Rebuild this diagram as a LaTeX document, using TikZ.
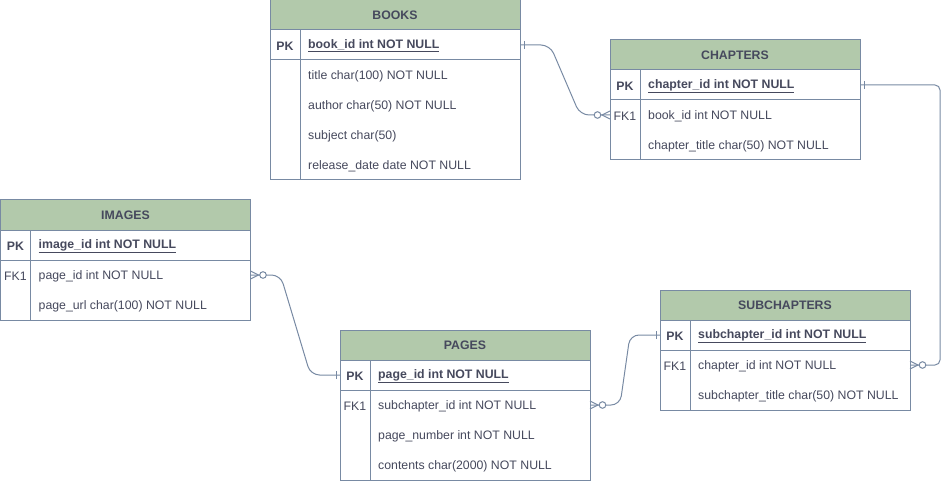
\documentclass[tikz,border=0pt]{standalone}
\usepackage{fontspec}
\setmainfont{Liberation Sans}
\definecolor{hdr}{HTML}{B2C9AB}
\definecolor{edge}{HTML}{788AA3}
\definecolor{txt}{HTML}{46495D}
\begin{document}
\begin{tikzpicture}[x=1pt,y=-1pt,
  every node/.style={font=\fontsize{12.3}{14}\selectfont, text=txt},
  hbox/.style={draw=edge, fill=hdr, line width=1pt, minimum width=250pt, minimum height=30pt, inner sep=0pt, outer sep=0pt, font=\fontsize{12.3}{14}\selectfont\bfseries},
  rbox/.style={draw=edge, fill=white, line width=1pt, minimum width=250pt, inner sep=0pt, outer sep=0pt},
  divl/.style={draw=edge, line width=1pt},
  keyl/.style={anchor=center, inner sep=0pt, yshift=-1pt},
  fld/.style={anchor=west, inner sep=0pt, yshift=-1pt},
  bfk/.style={font=\fontsize{12.3}{14}\selectfont\bfseries},
  conn/.style={draw=edge, line width=1pt},
  zmany/.pic={\draw[conn] (0,-4) -- (8,0) -- (0,4);
              \draw[conn, fill=white] (12.5,0) circle (3.3);},
  onebar/.pic={\draw[conn] (4,-4) -- (4,4);}
]
\useasboundingbox (0,0) rectangle (950,481);

% ---------- BOOKS ----------
\node[hbox] (books-h) at (395,15) {BOOKS};
\node[rbox, minimum height=30pt] (books-pk) at (395,45) {};
\node[rbox, minimum height=120pt] (books-body) at (395,120) {};
\draw[divl] (300,30) -- (300,180);
\node[keyl, bfk] (books-pkl) at (285,45) {PK};
\node[fld, bfk] (books-f1) at (308,45) {\underline{book\_id int NOT NULL}};
\node[fld] (books-f2) at (308,75) {title char(100) NOT NULL};
\node[fld] (books-f3) at (308,105) {author char(50) NOT NULL};
\node[fld] (books-f4) at (308,135) {subject char(50)};
\node[fld] (books-f5) at (308,165) {release\_date date NOT NULL};

% ---------- CHAPTERS ----------
\node[hbox] (chapters-h) at (735,55) {CHAPTERS};
\node[rbox, minimum height=30pt] (chapters-pk) at (735,85) {};
\node[rbox, minimum height=60pt] (chapters-body) at (735,130) {};
\draw[divl] (640,70) -- (640,160);
\node[keyl, bfk] (chapters-pkl) at (625,85) {PK};
\node[keyl] (chapters-fkl) at (625,115) {FK1};
\node[fld, bfk] (chapters-f1) at (648,85) {\underline{chapter\_id int NOT NULL}};
\node[fld] (chapters-f2) at (648,115) {book\_id int NOT NULL};
\node[fld] (chapters-f3) at (648,145) {chapter\_title char(50) NOT NULL};
\coordinate (chapters-fk) at (610,115);

% ---------- IMAGES ----------
\node[hbox] (images-h) at (125.5,215) {IMAGES};
\node[rbox, minimum height=30pt] (images-pk) at (125.5,245) {};
\node[rbox, minimum height=60pt] (images-body) at (125.5,290) {};
\draw[divl] (30.5,230) -- (30.5,320);
\node[keyl, bfk] (images-pkl) at (15.5,245) {PK};
\node[keyl] (images-fkl) at (15.5,275) {FK1};
\node[fld, bfk] (images-f1) at (38.5,245) {\underline{image\_id int NOT NULL}};
\node[fld] (images-f2) at (38.5,275) {page\_id int NOT NULL};
\node[fld] (images-f3) at (38.5,305) {page\_url char(100) NOT NULL};
\coordinate (images-fk) at (250.5,275);

% ---------- PAGES ----------
\node[hbox] (pages-h) at (465,345) {PAGES};
\node[rbox, minimum height=30pt] (pages-pk) at (465,375) {};
\node[rbox, minimum height=90pt] (pages-body) at (465,435) {};
\draw[divl] (370,360) -- (370,480);
\node[keyl, bfk] (pages-pkl) at (355,375) {PK};
\node[keyl] (pages-fkl) at (355,405) {FK1};
\node[fld, bfk] (pages-f1) at (378,375) {\underline{page\_id int NOT NULL}};
\node[fld] (pages-f2) at (378,405) {subchapter\_id int NOT NULL};
\node[fld] (pages-f3) at (378,435) {page\_number int NOT NULL};
\node[fld] (pages-f4) at (378,465) {contents char(2000) NOT NULL};
\coordinate (pages-fk) at (590,405);

% ---------- SUBCHAPTERS ----------
\node[hbox] (subch-h) at (785,305) {SUBCHAPTERS};
\node[rbox, minimum height=30pt] (subch-pk) at (785,335) {};
\node[rbox, minimum height=60pt] (subch-body) at (785,380) {};
\draw[divl] (690,320) -- (690,410);
\node[keyl, bfk] (subch-pkl) at (675,335) {PK};
\node[keyl] (subch-fkl) at (675,365) {FK1};
\node[fld, bfk] (subch-f1) at (698,335) {\underline{subchapter\_id int NOT NULL}};
\node[fld] (subch-f2) at (698,365) {chapter\_id int NOT NULL};
\node[fld] (subch-f3) at (698,395) {subchapter\_title char(50) NOT NULL};
\coordinate (subch-fk) at (910,365);

% ---------- connectors ----------
\draw[conn, rounded corners=9pt] (books-pk.east) -- ++(30,0) -- ++(30,70) -- (chapters-fk);
\draw[conn, rounded corners=5pt] (chapters-pk.east) -- ++(80,0) |- (subch-fk);
\draw[conn, rounded corners=9pt] (images-fk) -- ++(30,0) -- ++(30,100) -- (pages-pk.west);
\draw[conn, rounded corners=9pt] (pages-fk) -- ++(30,0) -- ++(10,-70) -- (subch-pk.west);

% ---------- markers ----------
\pic at (books-pk.east) {onebar};
\pic[rotate=180] at (chapters-fk) {zmany};
\pic at (chapters-pk.east) {onebar};
\pic at (subch-fk) {zmany};
\pic at (images-fk) {zmany};
\pic[rotate=180] at (pages-pk.west) {onebar};
\pic at (pages-fk) {zmany};
\pic[rotate=180] at (subch-pk.west) {onebar};
\end{tikzpicture}
\end{document}
